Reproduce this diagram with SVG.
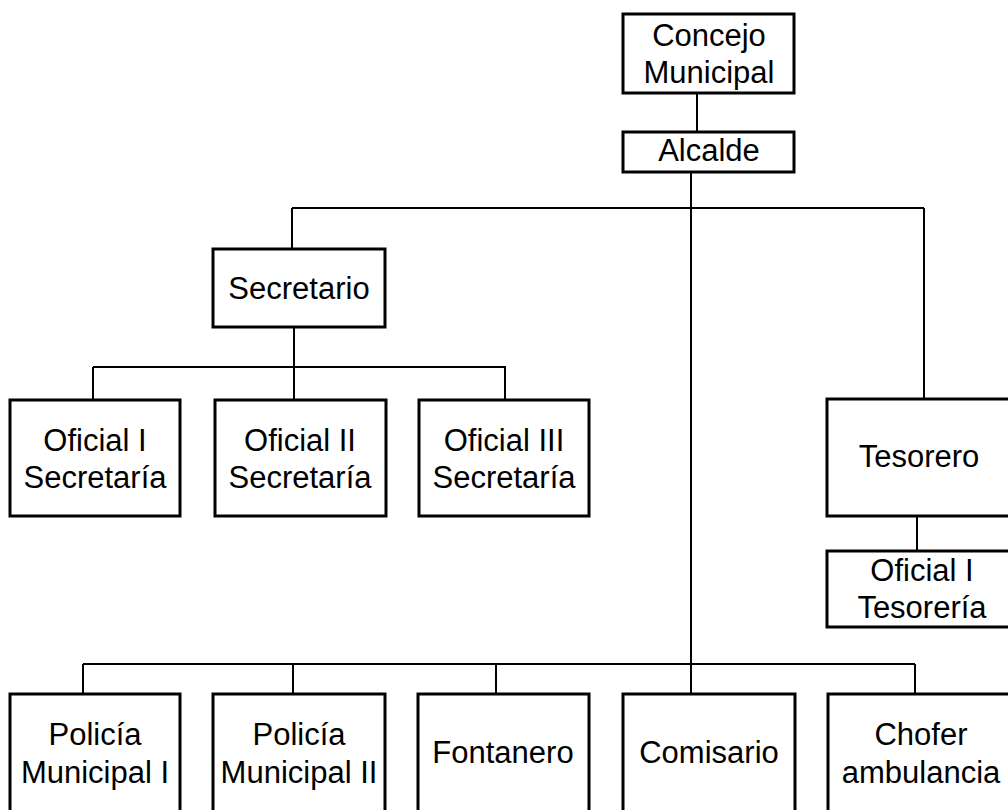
<svg xmlns="http://www.w3.org/2000/svg" width="1008" height="810" viewBox="0 0 1008 810">
  <style>
    .box { fill: #ffffff; stroke: #000000; stroke-width: 3; }
    .lbl { font-family: "Liberation Sans", Arial, sans-serif; font-size: 31px; fill: #000000; text-anchor: middle; }
    .wire { fill: none; stroke: #000000; stroke-width: 2; }
  </style>
  <rect width="1008" height="810" fill="#ffffff"/>

  <!-- connectors -->
  <g id="connectors">
    <line class="wire" x1="697" y1="93" x2="697" y2="132"/>
    <line class="wire" x1="691" y1="172" x2="691" y2="694"/>
    <line class="wire" x1="292" y1="208" x2="924" y2="208"/>
    <line class="wire" x1="292" y1="208" x2="292" y2="249"/>
    <line class="wire" x1="924" y1="208" x2="924" y2="399"/>
    <line class="wire" x1="294" y1="327" x2="294" y2="400"/>
    <line class="wire" x1="93" y1="367" x2="506" y2="367"/>
    <line class="wire" x1="93" y1="367" x2="93" y2="400"/>
    <line class="wire" x1="505" y1="367" x2="505" y2="400"/>
    <line class="wire" x1="917" y1="516" x2="917" y2="551"/>
    <line class="wire" x1="83" y1="664" x2="915" y2="664"/>
    <line class="wire" x1="83" y1="664" x2="83" y2="694"/>
    <line class="wire" x1="293" y1="664" x2="293" y2="694"/>
    <line class="wire" x1="496" y1="664" x2="496" y2="694"/>
    <line class="wire" x1="915" y1="664" x2="915" y2="694"/>
  </g>

  <g id="concejo">
    <rect class="box" x="623" y="14" width="171" height="79"/>
    <text class="lbl" x="709" y="46">Concejo</text>
    <text class="lbl" x="709" y="83">Municipal</text>
  </g>
  <g id="alcalde">
    <rect class="box" x="623" y="132" width="171" height="40"/>
    <text class="lbl" x="709" y="161">Alcalde</text>
  </g>
  <g id="secretario">
    <rect class="box" x="213" y="249" width="172" height="78"/>
    <text class="lbl" x="299" y="299">Secretario</text>
  </g>
  <g id="oficial-1-secretaria">
    <rect class="box" x="10" y="400" width="170" height="116"/>
    <text class="lbl" x="95" y="451">Oficial I</text>
    <text class="lbl" x="95" y="488">Secretaría</text>
  </g>
  <g id="oficial-2-secretaria">
    <rect class="box" x="215" y="400" width="171" height="116"/>
    <text class="lbl" x="300" y="451">Oficial II</text>
    <text class="lbl" x="300" y="488">Secretaría</text>
  </g>
  <g id="oficial-3-secretaria">
    <rect class="box" x="419" y="400" width="170" height="116"/>
    <text class="lbl" x="504" y="451">Oficial III</text>
    <text class="lbl" x="504" y="488">Secretaría</text>
  </g>
  <g id="tesorero">
    <rect class="box" x="827" y="399" width="190" height="117"/>
    <text class="lbl" x="919" y="467">Tesorero</text>
  </g>
  <g id="oficial-1-tesoreria">
    <rect class="box" x="827" y="551" width="190" height="76"/>
    <text class="lbl" x="922" y="581">Oficial I</text>
    <text class="lbl" x="922" y="618">Tesorería</text>
  </g>
  <g id="policia-1">
    <rect class="box" x="10" y="694" width="170" height="120"/>
    <text class="lbl" x="95" y="745">Policía</text>
    <text class="lbl" x="95" y="783">Municipal I</text>
  </g>
  <g id="policia-2">
    <rect class="box" x="213" y="694" width="172" height="120"/>
    <text class="lbl" x="299" y="745">Policía</text>
    <text class="lbl" x="299" y="783">Municipal II</text>
  </g>
  <g id="fontanero">
    <rect class="box" x="418" y="694" width="171" height="120"/>
    <text class="lbl" x="503" y="763">Fontanero</text>
  </g>
  <g id="comisario">
    <rect class="box" x="623" y="694" width="172" height="120"/>
    <text class="lbl" x="709" y="763">Comisario</text>
  </g>
  <g id="chofer">
    <rect class="box" x="828" y="694" width="190" height="120"/>
    <text class="lbl" x="921" y="745">Chofer</text>
    <text class="lbl" x="921" y="783">ambulancia</text>
  </g>
</svg>
